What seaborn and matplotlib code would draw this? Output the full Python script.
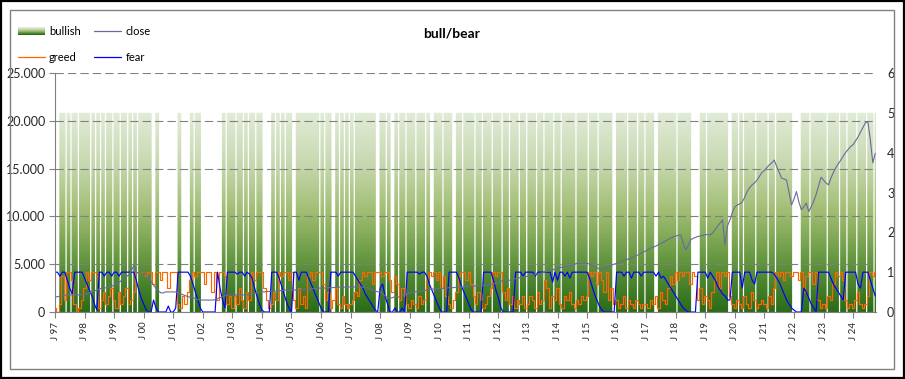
import numpy as np
import pandas as pd
import seaborn as sns
import matplotlib.pyplot as plt
from matplotlib.path import Path
from matplotlib.transforms import Affine2D
from matplotlib.patches import PathPatch, Rectangle, Patch
from matplotlib.lines import Line2D
from matplotlib.legend_handler import HandlerPatch
from matplotlib.colors import LinearSegmentedColormap

# monthly values, Jan 1997 .. Oct 2024 (one row per year)
years = list(range(1997, 2025))
year_labels = ['J %02d' % (y % 100) for y in years]

close_rows = [
    [1570, 1600, 1650, 1700, 1750, 1780, 1780, 1800, 1800, 1780, 1800, 1820],
    [1850, 1900, 2000, 2100, 2200, 2300, 2400, 2500, 2500, 2550, 2600, 2700],
    [2800, 3000, 3100, 3300, 3500, 3700, 3900, 4300, 4900, 4100, 4100, 4200],
    [4200, 3900, 3600, 3200, 2800, 2500, 2200, 2000, 2000, 2100, 2100, 2100],
    [2100, 2100, 2000, 1900, 1800, 1700, 1600, 1550, 1500, 1400, 1300, 1250],
    [1250, 1250, 1250, 1250, 1250, 1300, 1400, 1500, 1600, 1700, 1780, 1780],
    [1780, 1780, 1800, 1800, 1800, 1780, 1800, 1850, 1900, 1950, 2000, 2050],
    [2100, 2100, 2150, 2150, 2200, 2200, 2200, 2250, 2250, 2300, 2300, 2300],
    [2300, 2300, 2300, 2300, 2350, 2350, 2400, 2400, 2400, 2450, 2450, 2500],
    [2500, 2500, 2500, 2550, 2550, 2550, 2600, 2600, 2600, 2600, 2600, 2650],
    [2600, 2600, 2650, 2650, 2600, 2600, 2550, 2500, 2400, 2300, 2200, 2100],
    [2100, 1900, 1700, 1500, 1450, 1500, 1600, 1550, 1600, 1700, 1800, 1900],
    [2000, 2050, 2100, 2150, 2150, 2200, 2250, 2300, 2350, 2400, 2400, 2450],
    [2450, 2450, 2500, 2500, 2550, 2550, 2550, 2600, 2600, 2600, 2650, 2650],
    [2700, 2700, 2700, 2750, 2750, 2750, 2800, 2800, 2850, 2900, 2950, 3000],
    [3100, 3200, 3300, 3350, 3300, 3350, 3400, 3500, 3550, 3600, 3650, 3700],
    [3750, 3800, 3850, 3900, 4000, 4050, 4100, 4200, 4250, 4300, 4400, 4500],
    [4600, 4650, 4700, 4750, 4800, 4850, 4900, 5000, 5100, 5050, 5100, 5100],
    [5100, 5000, 4900, 4800, 4650, 4500, 4500, 4500, 4600, 4800, 4900, 5000],
    [5100, 5200, 5300, 5400, 5500, 5550, 5650, 5800, 5900, 6000, 6150, 6300],
    [6400, 6550, 6700, 6800, 6900, 7050, 7200, 7300, 7450, 7600, 7750, 7850],
    [7950, 8000, 8060, 7200, 6500, 6900, 7550, 7700, 7800, 7900, 7950, 8000],
    [8100, 8100, 8060, 8280, 8600, 9000, 9300, 9640, 7020, 9000, 9640, 10400],
    [11000, 11200, 11300, 11500, 12000, 12600, 13000, 13300, 13500, 13800, 14200, 14600],
    [14800, 15100, 15400, 15600, 15900, 15200, 14600, 14000, 13900, 13800, 12500, 11200],
    [11800, 12600, 11500, 10700, 11000, 11400, 10500, 11000, 11600, 12300, 13200, 14100],
    [13800, 13500, 13300, 14000, 14600, 15100, 15500, 15900, 16300, 16700, 17000, 17300],
    [17500, 17900, 18300, 18800, 19300, 19800, 19900, 18000, 15600, 16600],
]

bullish_rows = [
    [0, 0, 1, 1, 0, 1, 0, 1, 1, 0, 1, 1],
    [1, 1, 0, 1, 0, 1, 0, 1, 0, 1, 1, 0],
    [1, 1, 0, 1, 1, 0, 1, 0, 1, 0, 1, 1],
    [1, 1, 1, 0, 0, 1, 0, 0, 0, 0, 0, 0],
    [0, 0, 1, 0, 0, 0, 0, 1, 0, 1, 1, 0],
    [0, 0, 0, 0, 0, 0, 0, 0, 1, 0, 1, 1],
    [1, 0, 1, 1, 0, 1, 0, 1, 1, 0, 1, 1],
    [0, 0, 0, 0, 1, 0, 1, 0, 1, 0, 1, 1],
    [0, 0, 1, 1, 1, 1, 1, 1, 1, 1, 1, 0],
    [1, 0, 1, 1, 0, 0, 1, 0, 1, 0, 1, 0],
    [1, 0, 1, 1, 1, 1, 1, 1, 1, 1, 0, 0],
    [1, 1, 0, 1, 0, 0, 1, 0, 1, 1, 0, 1],
    [1, 1, 0, 1, 1, 1, 0, 1, 0, 0, 1, 1],
    [1, 0, 1, 1, 1, 0, 0, 1, 1, 0, 1, 1],
    [1, 1, 0, 1, 1, 0, 1, 1, 1, 0, 1, 1],
    [1, 0, 1, 1, 0, 1, 1, 1, 0, 1, 1, 0],
    [1, 1, 1, 0, 1, 1, 0, 1, 1, 1, 0, 1],
    [1, 0, 1, 1, 1, 1, 1, 0, 1, 1, 1, 1],
    [0, 1, 1, 1, 0, 1, 1, 1, 1, 1, 0, 0],
    [1, 1, 1, 1, 0, 1, 1, 1, 0, 1, 1, 0],
    [1, 1, 1, 0, 0, 1, 1, 1, 1, 1, 1, 1],
    [0, 1, 1, 1, 1, 1, 0, 0, 0, 0, 1, 1],
    [0, 1, 1, 1, 1, 1, 1, 1, 1, 0, 0, 1],
    [1, 0, 1, 0, 1, 1, 1, 1, 0, 1, 1, 1],
    [1, 0, 1, 1, 0, 1, 1, 1, 1, 1, 1, 0],
    [0, 0, 0, 1, 1, 1, 0, 1, 1, 1, 1, 1],
    [1, 0, 1, 1, 1, 1, 0, 1, 1, 0, 1, 1],
    [1, 0, 1, 1, 1, 0, 1, 1, 0, 1],
]

fear_rows = [
    [1, 1, .9, 1, 1, .8, .6, .45, 1, 1, 1, 1],
    [.85, .7, .55, .4, .2, .05, 1, 1, .9, 1, 1, .9],
    [1, 1, .9, 1, 1, 1, 1, 1, 1, .8, .55, .35],
    [.2, .05, 0, 0, .3, .1, 0, 0, 0, 0, .15, 0],
    [0, .1, 1, 1, 1, 1, 1, .9, .7, .5, .3, .1],
    [0, 0, 0, 0, 0, 0, 1, .6, .3, .1, 1, 1],
    [1, 1, .95, 1, 1, .9, 1, .95, .85, .6, .4, .2],
    [.05, 0, 0, 0, 1, 1, 1, .85, .65, .45, .25, .1],
    [0, 1, 1, .8, 1, 1, 1, .85, .7, .55, .4, .25],
    [.1, 0, 0, 0, 1, 1, 1, .9, 1, 1, 1, 1],
    [1, 1, .9, .8, .7, .6, .45, .35, .25, .15, .05, 0],
    [.6, .7, .4, .2, 0, 0, .1, 0, 0, .1, 0, 1],
    [1, 1, 1, 1, .95, 1, 1, .9, .7, .55, .4, .25],
    [.1, 0, 0, 0, 1, 1, 1, 1, .85, .65, .5, .35],
    [.2, .05, 0, 0, 0, 0, 1, 1, 1, 1, .8, .55],
    [.35, .1, 0, 0, 0, 0, 0, 1, 1, 1, .9, 1],
    [1, 1, 1, .9, 1, 1, 1, 1, 1, 1, .75, 1],
    [.8, 1, 1, .9, 1, .85, 1, 1, 1, 1, 1, 1],
    [1, .85, .65, .45, .3, .15, .05, 0, 0, 0, 0, 0],
    [1, 1, 1, .9, 1, 1, .85, 1, 1, 1, .9, 1],
    [1, 1, 1, 1, .9, 1, .85, .9, .8, .7, .6, .5],
    [.4, .3, .2, .1, .05, 0, 0, 0, 0, 1, 1, 1],
    [1, .85, 1, .9, .8, .65, .55, .45, .4, .3, .3, 1],
    [1, 1, 1, .6, 1, 1, 1, .8, .7, 1, 1, 1],
    [1, 1, 1, 1, .95, .85, .75, .6, .45, .3, .2, .1],
    [.05, 0, 0, 0, .6, .5, .35, .2, .1, 0, 1, 1],
    [1, 1, 1, .85, .7, .6, .5, .4, .3, 1, 1, 1],
    [1, 1, .7, .6, 1, 1, 1, .8, .6, .4],
]

greed_rows = [
    [.1, 0, .2, .9, .3, 1, 1, .8, .2, 0, .1, .3],
    [.6, 1, .8, 1, 1, .9, .1, .3, .5, .2, .4, .6],
    [.3, .1, .5, .2, .4, .6, .2, .3, .5, 1, 1, 1],
    [1, .9, 1, 1, .7, 1, 1, .8, 1, 1, .6, 1],
    [1, 1, .2, .1, .4, .2, .5, .8, 1, .9, 1, 1],
    [1, .7, 1, 1, .5, 1, .3, 1, 1, .9, .2, .4],
    [.1, .4, .2, .6, .3, .1, .5, .3, 1, .8, 1, 1],
    [1, .6, .3, .1, .2, .5, .3, 1, .9, 1, 1, .8],
    [1, .3, .1, .6, .2, .4, .1, .9, 1, .8, 1, 1],
    [1, .7, .3, .5, .1, .3, .6, .2, .1, .4, .2, .1],
    [.2, .3, .5, .4, .8, 1, .9, 1, 1, .7, 1, 1],
    [1, .9, 1, 1, .8, .5, .9, .7, .3, .6, .4, .2],
    [.1, .3, .2, .1, .4, .2, .3, .8, 1, .9, 1, .8],
    [1, .6, .9, .4, .2, .1, .3, .5, .9, 1, 1, .8],
    [1, .7, .4, .2, .5, .3, .1, .2, .4, .6, 1, .9],
    [1, 1, .5, .3, .6, .2, .4, .1, .3, .2, .4, .1],
    [.2, .4, .3, .1, .5, .2, .3, .8, .6, .1, .4, .3],
    [.6, .2, .1, .4, .3, .5, .2, .1, .3, .2, .4, .3],
    [.4, 1, .9, 1, .7, 1, .8, .5, 1, .3, .6, .2],
    [.3, .1, .2, .4, .1, .3, .2, .1, .3, .2, .1, .2],
    [.2, .1, .3, .2, .4, .1, .5, .3, .2, .6, .9, .7],
    [1, .8, 1, .9, 1, 1, .7, 1, .9, .3, .6, .2],
    [.4, .3, .1, .5, .8, 1, .6, 1, .9, 1, .4, .2],
    [.1, .3, .2, .1, .4, .2, .1, .5, .3, .1, .2, .3],
    [.2, .1, .4, .2, .6, 1, .9, 1, .8, 1, 1, .9],
    [1, 1, .8, 1, .5, .9, 1, 1, .7, 1, .3, .1],
    [.2, .1, .4, .3, .7, 1, .9, 1, .8, .3, .1, .2],
    [.1, .3, .5, .2, .1, .2, .4, 1, .9, 1],
]

BAR_TOP = 5  # bullish bars reach 5 on the right axis

close = sum(close_rows, [])
bullish = sum(bullish_rows, [])
fear = sum(fear_rows, [])
greed = sum(greed_rows, [])
n = len(close)
assert n == len(bullish) == len(fear) == len(greed)

df = pd.DataFrame({'month': np.arange(n), 'close': close, 'greed': greed,
                   'fear': fear, 'bullish': bullish})

sns.set_theme(style='white')
plt.rcParams['font.family'] = ['Lato', 'DejaVu Sans']
plt.rcParams['text.color'] = '#000000'

bull_cmap = LinearSegmentedColormap.from_list(
    'bull', ['#2a6c18', '#62953d', '#a0bd72', '#c8d9b1', '#e2ecd8'])

fig = plt.figure(figsize=(9.05, 3.79), dpi=100)
ax = fig.add_axes([55 / 905, 67 / 379, 821 / 905, 239 / 379])
ax2 = ax.twinx()
ax.set_zorder(ax2.get_zorder() + 1)
ax.patch.set_visible(False)

# bullish bars (a little wider than a month so the gaps stay thin), gradient fill
bars = ax2.bar(df['month'] + 0.5, df['bullish'] * BAR_TOP, width=1.5,
               color='none', linewidth=0)
rects = [Path.unit_rectangle().transformed(
    Affine2D().scale(b.get_width(), b.get_height()).translate(b.get_x(), b.get_y()))
    for b in bars if b.get_height() > 0]
clip = PathPatch(Path.make_compound_path(*rects), transform=ax2.transData,
                 facecolor='none', edgecolor='none')
ax2.add_patch(clip)
im = ax2.imshow(np.linspace(0, 1, 256).reshape(-1, 1), extent=[-1, n + 1, 0, BAR_TOP],
                origin='lower', aspect='auto', cmap=bull_cmap, zorder=1)
im.set_clip_path(clip)

sns.lineplot(data=df, x='month', y='greed', ax=ax2, color='#ff6600', lw=0.85,
             drawstyle='steps-mid', zorder=3)
sns.lineplot(data=df, x='month', y='fear', ax=ax2, color='#0000ff', lw=0.85, zorder=4)
sns.lineplot(data=df, x='month', y='close', ax=ax, color='#6a6a9c', lw=0.8, zorder=5)

ax.set_xlim(0, 333.3)
ax.set_ylim(0, 25000)
ax2.set_ylim(0, 6)
ax.set_xlabel('')
ax.set_ylabel('')
ax2.set_ylabel('')

ax.set_xticks(np.arange(0, n, 12))
ax.set_xticklabels(year_labels, rotation=90, fontsize=7)
left_ticks = [0, 5000, 10000, 15000, 20000, 25000]
ax.set_yticks(left_ticks)
ax.set_yticklabels(['{:,}'.format(v).replace(',', '.') for v in left_ticks], fontsize=9)
ax.tick_params(axis='x', direction='out', length=4, width=0.8, color='#808080', pad=3)
ax.tick_params(axis='y', direction='out', length=4, width=0.8, color='#808080', pad=3)
ax.tick_params(left=True, bottom=True)

ax2.set_yticks(range(7))
ax2.set_yticklabels([str(v) for v in range(7)], fontsize=9)
ax2.tick_params(axis='y', length=0, pad=8)

ax.yaxis.grid(True, color='#808080', lw=0.8, ls=(0, (7.5, 3.7)))
ax.xaxis.grid(False)
ax2.grid(False)
for s in ['top', 'right']:
    ax.spines[s].set_visible(False)
for s in ['left', 'bottom']:
    ax.spines[s].set_color('#808080')
    ax.spines[s].set_linewidth(0.8)
for s in ax2.spines.values():
    s.set_visible(False)


class GradientHandler(HandlerPatch):
    def create_artists(self, legend, orig_handle, xdescent, ydescent, width,
                       height, fontsize, trans):
        k = 8
        return [Rectangle((-xdescent, -ydescent + height * j / k), width, height / k,
                          transform=trans, facecolor=bull_cmap(j / (k - 1)),
                          edgecolor='none') for j in range(k)]


handles = [Patch(label='bullish'),
           Line2D([], [], color='#ff6600', lw=0.9, label='greed'),
           Line2D([], [], color='#6a6a9c', lw=0.9, label='close'),
           Line2D([], [], color='#0000ff', lw=0.9, label='fear')]
fig.legend(handles=handles, loc='upper left', bbox_to_anchor=(18 / 905, 1 - 26 / 379),
           ncol=2, frameon=False, fontsize=8, handlelength=2.4, handleheight=0.7,
           labelspacing=1.35, columnspacing=1.2, handletextpad=0.4,
           borderpad=0, borderaxespad=0, handler_map={Patch: GradientHandler()})

fig.text(452 / 905, 1 - 33 / 379, 'bull/bear', ha='center', va='center',
         fontsize=10, fontweight='bold')

fig.patches.append(Rectangle((10 / 905, 10 / 379), 884 / 905, 359 / 379, fill=False,
                             edgecolor='#808080', lw=1, transform=fig.transFigure))
fig.patches.append(Rectangle((0.001, 0.002), 0.998, 0.996, fill=False,
                             edgecolor='#000000', lw=1.6, transform=fig.transFigure))

fig.savefig('out.png', dpi=100)
